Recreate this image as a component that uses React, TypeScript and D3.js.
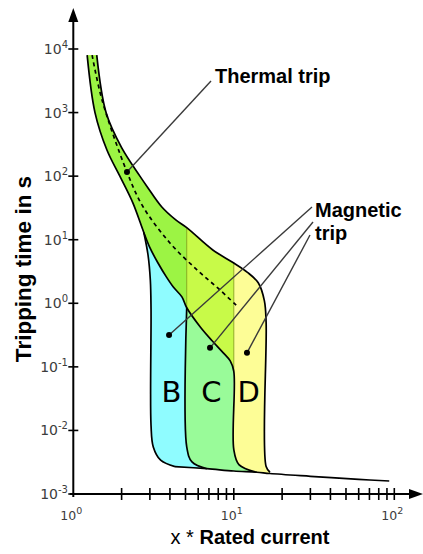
import { useEffect, useRef } from "react";
import * as d3 from "d3";

type Pt = [number, number];

const W = 423;
const H = 554;

// thermal band edges, [multiple of rated current, seconds]
const thermalLow: Pt[] = [
  [1.22, 8000], [1.365, 1000], [1.62, 258], [1.95, 100], [2.35, 38], [2.75, 13],
  [3.0, 7.5], [3.37, 4.3], [3.8, 2.6], [4.2, 1.8], [4.75, 1.26], [5.09, 0.85],
  [6.2, 0.42], [7.3, 0.26], [8.6, 0.166], [9.5, 0.124], [10, 0.085],
];
const thermalHigh: Pt[] = [
  [1.4, 8000], [1.6, 1000], [2.0, 280], [2.6, 100], [2.9, 67], [3.55, 33],
  [4.35, 20.5], [5.09, 15.5], [7.4, 6.9], [10, 4.3], [12.1, 3.1], [14.2, 2.1],
  [15.5, 1.1], [15.9, 0.5],
];
const thermalMid: Pt[] = [
  [1.31, 8000], [1.51, 1580], [2.16, 116], [2.72, 33], [4.0, 8.9], [5.9, 3.35],
  [8.2, 1.62], [10.6, 0.88],
];

// magnetic release edges
const edgeB: Pt[] = [
  [2.75, 13], [2.92, 5.8], [3.02, 2.3], [3.05, 0.8], [3.05, 0.012], [3.15, 0.0055],
  [3.5, 0.0034], [4.3, 0.0027],
];
const edgeBC: Pt[] = [[5.09, 0.85], [5.09, 0.0055], [5.49, 0.0032], [6.8, 0.0025]];
const edgeCD: Pt[] = [[10, 0.085], [10, 0.005], [10.76, 0.0029], [13.9, 0.0022]];
const edgeD: Pt[] = [[15.9, 0.5], [15.9, 0.0027], [16.8, 0.0022]];
const floorLine: Pt[] = [
  [4.3, 0.0027], [6.8, 0.0025], [10, 0.0023], [13.9, 0.0022], [16.8, 0.0021],
  [30, 0.0019], [60, 0.0017], [93, 0.0016],
];
const faintLines: Pt[][] = [
  [[5.09, 15.5], [5.09, 0.85]],
  [[10, 4.3], [10, 0.085]],
];

const curveNames = ["B", "C", "D"];
const curveNamePos: Pt[] = [[4.09, 0.028], [7.26, 0.028], [12.4, 0.028]];
const magneticDots: Pt[] = [[3.95, 0.318], [7.11, 0.199], [12.08, 0.166]];
const thermalDot: Pt = [2.16, 116];

const yExponents = [-3, -2, -1, 0, 1, 2, 3, 4];
const xExponents = [0, 1, 2];
const xTicks = [2, 3, 4, 5, 6, 7, 8, 9, 10, 20, 30, 40, 50, 60, 70, 80, 90, 100];

const fills = {
  bcd: "#9cf444",
  cd: "#c8fa48",
  b: "#8ffcff",
  c: "#99fb99",
  d: "#fdfd96",
};

export default function App() {
  const ref = useRef<SVGSVGElement | null>(null);

  useEffect(() => {
    const svg = d3.select(ref.current!);
    svg.selectAll("*").remove();

    const x = d3.scaleLog().domain([1, 100]).range([73.3, 394.3]);
    const y = d3.scaleLog().domain([1e-3, 1e4]).range([494, 49]);

    const line = d3
      .line<Pt>()
      .x((d) => x(d[0]))
      .y((d) => y(d[1]))
      .curve(d3.curveCatmullRom.alpha(0.5));
    const seg = (pts: Pt[]) => line(pts)!;
    const rev = (pts: Pt[]) => pts.slice().reverse();
    const join = (...parts: string[]) =>
      parts.map((s, i) => (i ? "L" + s.slice(1) : s)).join("") + "Z";
    const highTo = (m: number) => thermalHigh.filter((d) => d[0] <= m);
    const lowTo = (m: number) => thermalLow.filter((d) => d[0] <= m);
    const floorBetween = (a: number, b: number) =>
      floorLine.filter((d) => d[0] >= a && d[0] <= b);

    const lowAll = thermalLow.concat(edgeCD.slice(1));
    const outerRight = thermalHigh.concat(edgeD.slice(1));
    const lowEnd = lowAll[lowAll.length - 1];
    const top0 = x(thermalLow[0][0]);

    const defs = svg.append("defs");
    defs
      .append("clipPath")
      .attr("id", "aboveL")
      .append("path")
      .attr(
        "d",
        seg(lowAll) + `L${x(lowEnd[0])},${H}L${W},${H}L${W},0L${top0},0Z`
      );
    defs
      .append("clipPath")
      .attr("id", "belowL")
      .append("path")
      .attr("d", seg(lowAll) + `L${x(lowEnd[0])},${H}L0,${H}L0,0L${top0},0Z`);

    const shapeD = join(seg(outerRight), seg(rev(floorBetween(13.9, 16.8))), seg(rev(lowAll)));
    const shapeC = join(
      seg(highTo(10)),
      seg([faintLines[1][0], ...edgeCD]),
      seg(rev(floorBetween(6.8, 13.9))),
      seg(rev(edgeBC)),
      seg(rev(lowTo(5.09)))
    );
    const shapeB = join(
      seg(highTo(5.09)),
      seg([faintLines[0][0], ...edgeBC]),
      seg(rev(floorBetween(4.3, 6.8))),
      seg(rev(edgeB)),
      seg(rev(lowTo(2.75)))
    );

    const g = svg.append("g");
    g.append("path").attr("d", shapeD).attr("fill", fills.d);
    g.append("path").attr("d", shapeC).attr("fill", fills.c).attr("clip-path", "url(#belowL)");
    g.append("path").attr("d", shapeC).attr("fill", fills.cd).attr("clip-path", "url(#aboveL)");
    g.append("path").attr("d", shapeB).attr("fill", fills.b).attr("clip-path", "url(#belowL)");
    g.append("path").attr("d", shapeB).attr("fill", fills.bcd).attr("clip-path", "url(#aboveL)");

    g.selectAll("path.faint")
      .data(faintLines)
      .join("path")
      .attr("class", "faint")
      .attr("d", (d) => seg(d))
      .attr("fill", "none")
      .attr("stroke", "#7f9a1c")
      .attr("stroke-opacity", 0.8)
      .attr("stroke-width", 1);

    g.selectAll("path.edge")
      .data([lowAll, outerRight, edgeB, edgeBC, floorLine])
      .join("path")
      .attr("class", "edge")
      .attr("d", (d) => seg(d))
      .attr("fill", "none")
      .attr("stroke", "#000")
      .attr("stroke-width", 1.7)
      .attr("stroke-linejoin", "round");

    g.append("path")
      .attr("d", seg(thermalMid))
      .attr("fill", "none")
      .attr("stroke", "#000")
      .attr("stroke-width", 1.7)
      .attr("stroke-dasharray", "4 3.5");

    // axes
    const ax = svg.append("g").attr("stroke", "#000").attr("stroke-width", 2);
    ax.append("line").attr("x1", x(1)).attr("x2", x(1)).attr("y1", 497).attr("y2", 20);
    ax.append("line").attr("x1", 70).attr("x2", 412).attr("y1", y(1e-3)).attr("y2", y(1e-3));
    svg.append("path")
      .attr("d", `M${x(1)},8L${x(1) - 5},22L${x(1) + 5},22Z`)
      .attr("fill", "#000");
    svg.append("path")
      .attr("d", `M423,${y(1e-3)}L409,${y(1e-3) - 5}L409,${y(1e-3) + 5}Z`)
      .attr("fill", "#000");

    ax.selectAll("line.yt")
      .data(yExponents)
      .join("line")
      .attr("class", "yt")
      .attr("x1", x(1) - 5)
      .attr("x2", x(1) + 5)
      .attr("y1", (e) => y(Math.pow(10, e)))
      .attr("y2", (e) => y(Math.pow(10, e)))
      .attr("stroke-width", 1.6);
    ax.selectAll("line.xt")
      .data(xTicks)
      .join("line")
      .attr("class", "xt")
      .attr("x1", (v) => x(v))
      .attr("x2", (v) => x(v))
      .attr("y1", y(1e-3) - 6)
      .attr("y2", y(1e-3) + 6)
      .attr("stroke-width", 1.6);

    const yl = svg
      .selectAll("text.yl")
      .data(yExponents)
      .join("text")
      .attr("class", "yl")
      .attr("x", 68)
      .attr("y", (e) => y(Math.pow(10, e)) + 5)
      .attr("text-anchor", "end")
      .style("font-family", "'DejaVu Sans', sans-serif")
      .style("font-size", "14px")
      .style("fill", "#3c3c3c");
    yl.append("tspan").text("10");
    yl.append("tspan").attr("dy", -6).style("font-size", "10px").text((e) => String(e));

    const xl = svg
      .selectAll("text.xl")
      .data(xExponents)
      .join("text")
      .attr("class", "xl")
      .attr("x", (e) => x(Math.pow(10, e)) - 2)
      .attr("y", 520)
      .attr("text-anchor", "middle")
      .style("font-family", "'DejaVu Sans', sans-serif")
      .style("font-size", "12.5px")
      .style("fill", "#3c3c3c");
    xl.append("tspan").text("10");
    xl.append("tspan").attr("dy", -6).style("font-size", "9.5px").text((e) => String(e));

    // axis titles
    const bold = "'Liberation Sans', Arial, sans-serif";
    const xt = svg
      .append("text")
      .attr("x", 250)
      .attr("y", 544)
      .attr("text-anchor", "middle")
      .style("font-family", bold)
      .style("font-size", "20px");
    xt.append("tspan").text("x * ");
    xt.append("tspan").style("font-weight", "bold").text("Rated current");
    svg
      .append("text")
      .attr("transform", "translate(31,269) rotate(-90)")
      .attr("text-anchor", "middle")
      .style("font-family", bold)
      .style("font-size", "22.5px")
      .style("font-weight", "bold")
      .text("Tripping time in s");

    // annotations
    const ann = svg.append("g");
    ann.append("line")
      .attr("x1", 211).attr("y1", 81)
      .attr("x2", x(thermalDot[0])).attr("y2", y(thermalDot[1]))
      .attr("stroke", "#3a3a3a").attr("stroke-width", 1.4);
    const magStarts: Pt[] = [[312, 207], [313, 222], [310, 235]];
    ann.selectAll("line.mag")
      .data(magneticDots)
      .join("line")
      .attr("class", "mag")
      .attr("x1", (_, i) => magStarts[i][0])
      .attr("y1", (_, i) => magStarts[i][1])
      .attr("x2", (d) => x(d[0]))
      .attr("y2", (d) => y(d[1]))
      .attr("stroke", "#3a3a3a")
      .attr("stroke-width", 1.4);
    ann.selectAll("circle")
      .data([thermalDot, ...magneticDots])
      .join("circle")
      .attr("cx", (d) => x(d[0]))
      .attr("cy", (d) => y(d[1]))
      .attr("r", 3)
      .attr("fill", "#000");

    const lbl = (t: string, px: number, py: number) =>
      svg.append("text")
        .attr("x", px)
        .attr("y", py)
        .style("font-family", bold)
        .style("font-size", "20px")
        .style("font-weight", "bold")
        .text(t);
    lbl("Thermal trip", 215, 83);
    lbl("Magnetic", 315, 217);
    lbl("trip", 315, 240);

    svg.selectAll("text.cn")
      .data(curveNames)
      .join("text")
      .attr("class", "cn")
      .attr("x", (_, i) => x(curveNamePos[i][0]))
      .attr("y", (_, i) => y(curveNamePos[i][1]))
      .attr("text-anchor", "middle")
      .style("font-family", "'DejaVu Sans', sans-serif")
      .style("font-size", "29px")
      .text((d) => d);
  }, []);

  return (
    <svg
      ref={ref}
      width={W}
      height={H}
      style={{ position: "absolute", left: 0, top: 0, background: "#fff" }}
    />
  );
}
